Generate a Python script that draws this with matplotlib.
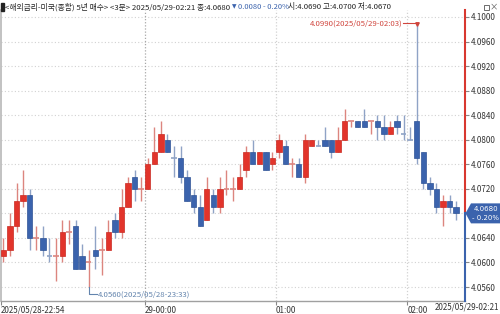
import matplotlib
matplotlib.use('Agg')
import matplotlib.pyplot as plt
from matplotlib.patches import Polygon, Rectangle
from matplotlib.transforms import blended_transform_factory
import numpy as np

plt.rcParams['font.family'] = ['Noto Sans CJK KR', 'DejaVu Sans']

# ---------------- data ----------------
title_text = "<해외금리-미국(종합) 5년 매수> <3분> 2025/05/29-02:21 종:4.0680"
change_text = "0.0080 - 0.20%"
ohl_text = "시:4.0690 고:4.0700 저:4.0670"
last_close = 4.0680
change_pct = -0.20

opens = [4.061, 4.062, 4.066, 4.070, 4.071, 4.064, 4.064, 4.061, 4.061, 4.061,
         4.065, 4.066, 4.061, 4.060, 4.062, 4.062, 4.062, 4.067, 4.065, 4.069,
         4.074, 4.072, 4.072, 4.076, 4.078, 4.080, 4.077, 4.077, 4.074, 4.071,
         4.069, 4.067, 4.071, 4.069, 4.072, 4.072, 4.072, 4.075, 4.078, 4.076,
         4.078, 4.076, 4.078, 4.079, 4.076, 4.076, 4.074, 4.079, 4.079, 4.080,
         4.080, 4.078, 4.080, 4.083, 4.083, 4.083, 4.083, 4.083, 4.082, 4.081,
         4.083, 4.081, 4.080, 4.083, 4.078, 4.073, 4.072, 4.069, 4.070, 4.069]
highs = [4.064, 4.068, 4.073, 4.075, 4.072, 4.066, 4.066, 4.064, 4.064, 4.067,
         4.067, 4.067, 4.063, 4.062, 4.066, 4.064, 4.067, 4.068, 4.072, 4.074,
         4.075, 4.074, 4.077, 4.082, 4.083, 4.081, 4.079, 4.079, 4.075, 4.072,
         4.071, 4.074, 4.072, 4.074, 4.075, 4.074, 4.076, 4.079, 4.080, 4.078,
         4.078, 4.078, 4.081, 4.080, 4.077, 4.077, 4.081, 4.080, 4.080, 4.082,
         4.080, 4.082, 4.085, 4.083, 4.083, 4.085, 4.083, 4.084, 4.084, 4.083,
         4.084, 4.084, 4.082, 4.099, 4.078, 4.074, 4.073, 4.071, 4.071, 4.070]
lows = [4.060, 4.061, 4.065, 4.069, 4.062, 4.062, 4.061, 4.060, 4.057, 4.060,
        4.063, 4.059, 4.059, 4.056, 4.059, 4.058, 4.062, 4.064, 4.064, 4.069,
        4.070, 4.070, 4.072, 4.076, 4.078, 4.078, 4.074, 4.073, 4.070, 4.068,
        4.066, 4.067, 4.068, 4.068, 4.071, 4.070, 4.072, 4.074, 4.076, 4.076,
        4.075, 4.075, 4.077, 4.076, 4.074, 4.074, 4.073, 4.079, 4.079, 4.079,
        4.077, 4.078, 4.080, 4.082, 4.082, 4.082, 4.081, 4.080, 4.080, 4.081,
        4.081, 4.080, 4.080, 4.076, 4.072, 4.071, 4.068, 4.066, 4.068, 4.067]
closes = [4.062, 4.066, 4.070, 4.071, 4.064, 4.064, 4.062, 4.061, 4.061, 4.065,
          4.065, 4.059, 4.059, 4.060, 4.061, 4.062, 4.065, 4.065, 4.069, 4.073,
          4.072, 4.072, 4.076, 4.078, 4.081, 4.078, 4.077, 4.074, 4.070, 4.069,
          4.066, 4.072, 4.069, 4.072, 4.072, 4.072, 4.074, 4.078, 4.076, 4.078,
          4.075, 4.077, 4.080, 4.076, 4.076, 4.074, 4.080, 4.080, 4.079, 4.079,
          4.078, 4.080, 4.083, 4.083, 4.082, 4.082, 4.083, 4.082, 4.081, 4.082,
          4.082, 4.081, 4.080, 4.077, 4.073, 4.072, 4.069, 4.070, 4.069, 4.068]
doji_red = [5, 8, 10, 13, 15, 21, 34, 35, 44, 53, 56]

x_tick_idx = [0, 22, 42, 62]
x_tick_labels = ["2025/05/28-22:54", "29-00:00", "01:00", "02:00"]
x_last_label = "2025/05/29-02:21"
y_ticks = [4.0560, 4.0600, 4.0640, 4.0680, 4.0720, 4.0760, 4.0800,
           4.0840, 4.0880, 4.0920, 4.0960, 4.1000]
high_time = "2025/05/29-02:03"
low_time = "2025/05/28-23:33"

# ---------------- style ----------------
RED = '#e2342b'
RED_EDGE = '#c92a22'
RED_WICK = '#dc857f'
BLUE = '#3b63ad'
BLUE_EDGE = '#2f5496'
BLUE_WICK = '#8fa3c6'
TXT = '#333333'

W, H = 500, 314
fig = plt.figure(figsize=(5.0, 3.14), dpi=100)
fig.patch.set_facecolor('white')

def fx(px):
    return px / W

def fy(py):
    return 1 - py / H

ax = fig.add_axes([fx(0.5), fy(301), fx(465) - fx(0.5), fy(10) - fy(301)])
ax.set_xlim(-0.36, 70.36)
ax.set_ylim(4.05372, 4.10114)

o = np.array(opens); h = np.array(highs); l = np.array(lows); c = np.array(closes)
x = np.arange(len(o))

# grid
for yv in y_ticks:
    ax.axhline(yv, color='#d2d2d2', lw=0.8, ls=(0, (1, 2)), zorder=0)
for k, idx in enumerate(x_tick_idx[1:]):
    col = '#a8a8a8' if k == 0 else '#d2d2d2'
    ax.axvline(idx - 0.45, color=col, lw=0.9, ls=(0, (1, 1.5)), zorder=0)

# candles
for i in x:
    up = c[i] > o[i] or (c[i] == o[i] and i in doji_red)
    wick = RED_WICK if up else BLUE_WICK
    ax.vlines(i, l[i], h[i], color=wick, lw=1.0, zorder=2)
    if c[i] == o[i]:
        ax.hlines(o[i], i - 0.42, i + 0.42, color=wick, lw=1.2, zorder=3)
    else:
        ax.bar(i, abs(c[i] - o[i]), bottom=min(o[i], c[i]), width=0.82,
               color=RED if up else BLUE, edgecolor=RED_EDGE if up else BLUE_EDGE,
               linewidth=0.5, zorder=3)

# high / low annotations
hi_i = int(np.argmax(h)); lo_i = int(np.argmin(l))
ax.plot([hi_i - 2.1, hi_i], [h[hi_i], h[hi_i]], color='#d0453d', lw=0.8, zorder=4)
ax.plot([hi_i], [h[hi_i] - 0.0002], marker='v', ms=2.5, color='#d0453d', zorder=4)
ax.text(hi_i - 2.2, h[hi_i], f"{h[hi_i]:.4f}({high_time})", color='#d0453d',
        fontsize=5.6, ha='right', va='center', zorder=5)
ax.plot([lo_i, lo_i, lo_i + 1.3], [l[lo_i], l[lo_i] - 0.0012, l[lo_i] - 0.0012],
        color='#6384ad', lw=0.8, zorder=4)
ax.text(lo_i + 1.4, l[lo_i] - 0.0012, f"{l[lo_i]:.4f}({low_time})", color='#6384ad',
        fontsize=5.6, ha='left', va='center', zorder=5)

# axes / ticks
for s in ['top', 'right']:
    ax.spines[s].set_visible(False)
ax.spines['left'].set_color('#b8b8b8')
ax.spines['left'].set_linewidth(1.2)
ax.spines['bottom'].set_color('#a0a0a0')
ax.spines['bottom'].set_linewidth(1.0)

ax.yaxis.tick_right()
ax.set_yticks(y_ticks)
# the last-price box hides the label at the last close
ax.set_yticklabels(["" if abs(v - last_close) < 1e-9 else f"{v:.4f}" for v in y_ticks])
ax.tick_params(axis='y', length=3, width=0.8, color='#888888', pad=1.5,
               labelsize=5.8, labelcolor=TXT)
ax.set_xticks([i - 0.45 for i in x_tick_idx])
ax.set_xticklabels(x_tick_labels, ha='left')
ax.tick_params(axis='x', length=3, width=0.8, color='#888888', pad=0.5,
               labelsize=5.8, labelcolor=TXT)
ax.text(fx(499), fy(307), x_last_label, transform=fig.transFigure,
        fontsize=5.8, color=TXT, ha='right', va='center')

# right axis line: red above last price, blue below
bt = blended_transform_factory(ax.transAxes, ax.transData)
ylo, yhi = ax.get_ylim()
ax.plot([1, 1], [last_close, yhi], color='#d8382f', lw=1.5, transform=bt,
        clip_on=False, zorder=6)
ax.plot([1, 1], [ylo, last_close], color='#3b63ad', lw=1.5, transform=bt,
        clip_on=False, zorder=6)

# last price box
py_last = H - ax.transData.transform((0, last_close))[1]
hh = 10
box = Polygon([(fx(465.5), fy(py_last)), (fx(471), fy(py_last - hh)),
               (fx(500), fy(py_last - hh)), (fx(500), fy(py_last + hh)),
               (fx(471), fy(py_last + hh))], closed=True,
              transform=fig.transFigure, facecolor='#3b63ad', edgecolor='none',
              zorder=10)
fig.add_artist(box)
fig.text(fx(485.5), fy(py_last - 4.6), f"{last_close:.4f}", color='white',
         fontsize=5.0, ha='center', va='center', zorder=11, family='DejaVu Sans')
fig.text(fx(485.5), fy(py_last + 4.6), f"- {abs(change_pct):.2f}%", color='white',
         fontsize=5.0, ha='center', va='center', zorder=11, family='DejaVu Sans')

# header
fig.add_artist(Rectangle((fx(1), fy(10.5)), fx(2.5), 7.5 / H,
                         transform=fig.transFigure, color='#222222'))
fig.text(fx(5), fy(7), title_text, fontsize=5.6, color='#222222', ha='left', va='center')
fig.text(fx(234.5), fy(7.2), "▼", fontsize=4.2, color='#3b63ad', ha='center', va='center',
         family='DejaVu Sans')
fig.text(fx(238), fy(7), change_text, fontsize=5.4, color='#3b63ad', ha='left', va='center')
fig.text(fx(288), fy(7), ohl_text, fontsize=5.6, color='#222222', ha='left', va='center')
fig.add_artist(Rectangle((fx(484), fy(10)), fx(5), 5 / H, transform=fig.transFigure,
                         facecolor='white', edgecolor='#555555', lw=0.6))
fig.text(fx(494), fy(6.5), "×", fontsize=6, color='#555555', ha='center', va='center')

fig.savefig('out.png', dpi=100, facecolor='white')
